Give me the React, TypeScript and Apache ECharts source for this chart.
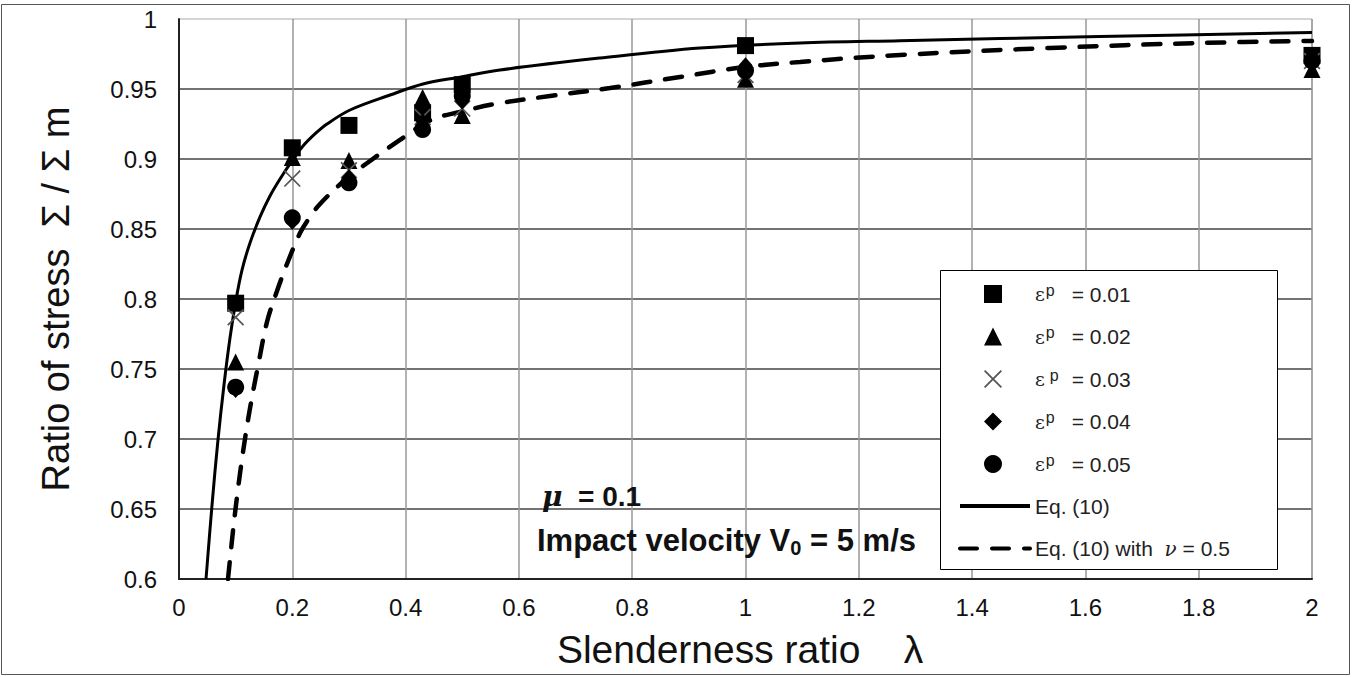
import React, { useEffect, useRef } from "react";
import * as echarts from "echarts";

// ---- data ----
const lambdaValues = [0.1, 0.2, 0.3, 0.43, 0.5, 1, 2];
const eps001 = [0.797, 0.908, 0.924, 0.933, 0.953, 0.981, 0.974];
const eps002 = [0.755, 0.901, 0.899, 0.944, 0.931, 0.957, 0.964];
const eps003 = [0.787, 0.886, 0.892, 0.93, 0.936, 0.96, 0.97];
const eps004 = [0.735, 0.855, 0.887, 0.927, 0.941, 0.967, 0.971];
const eps005 = [0.737, 0.858, 0.883, 0.921, 0.945, 0.963, 0.97];

const eq10Lambda = [0.0477, 0.0583, 0.0688, 0.0794, 0.09, 0.1006, 0.1112, 0.1253, 0.143, 0.1606, 0.1783, 0.1995, 0.2189, 0.24, 0.2613, 0.3019, 0.3725, 0.4307, 0.4978, 0.5666, 0.7432, 0.9197, 1.0962, 1.2727, 1.6258, 2.0];
const eq10Ratio = [0.6, 0.6529, 0.6993, 0.7386, 0.7721, 0.7993, 0.8207, 0.84, 0.8586, 0.8736, 0.8857, 0.8986, 0.9093, 0.9179, 0.925, 0.935, 0.9457, 0.9536, 0.9586, 0.9636, 0.9721, 0.9793, 0.9829, 0.9845, 0.9875, 0.9904];

const eq10NuLambda = [0.0865, 0.0953, 0.1041, 0.113, 0.1218, 0.1306, 0.1395, 0.1553, 0.173, 0.1906, 0.2136, 0.2312, 0.2489, 0.293, 0.3372, 0.3901, 0.4448, 0.496, 0.5578, 0.6549, 0.7608, 0.8844, 0.9991, 1.0962, 1.2727, 1.5375, 1.8023, 2.0];
const eq10NuRatio = [0.6, 0.6343, 0.6643, 0.6907, 0.7136, 0.7336, 0.7521, 0.7836, 0.8057, 0.825, 0.8471, 0.8586, 0.8679, 0.885, 0.8986, 0.9136, 0.9279, 0.9336, 0.9393, 0.945, 0.9507, 0.9586, 0.9657, 0.9693, 0.9743, 0.9793, 0.9829, 0.9843];

const pointNames = ["εp = 0.01", "εp = 0.02", "εp = 0.03", "εp = 0.04", "εp = 0.05"];
const curveNames = ["Eq. (10)", "Eq. (10) with ν = 0.5"];
const legendLabels: Record<string, string> = {
  "εp = 0.01": "{e|ε}{p|p}{t|= 0.01}",
  "εp = 0.02": "{e|ε}{p|p}{t|= 0.02}",
  "εp = 0.03": "{e|ε}{q|p}{t|= 0.03}",
  "εp = 0.04": "{e|ε}{p|p}{t|= 0.04}",
  "εp = 0.05": "{e|ε}{p|p}{t|= 0.05}",
  "Eq. (10)": "{t|Eq. (10)}",
  "Eq. (10) with ν = 0.5": "{t|Eq. (10) with  }{n|ν}{t| = 0.5}",
};

const FONT = "Liberation Sans";
const crossPath =
  "path://M0,0.7L0.7,0L5,4.3L9.3,0L10,0.7L5.7,5L10,9.3L9.3,10L5,5.7L0.7,10L0,9.3L4.3,5Z";

const pairs = (xs: number[], ys: number[]) => xs.map((x, i) => [x, ys[i]]);

const legendText = {
  fontFamily: FONT,
  fontSize: 21,
  color: "#222",
  lineHeight: 24,
  rich: {
    e: { fontFamily: "DejaVu Serif", fontSize: 19, lineHeight: 24, color: "#222", padding: [0, 0, 0, 28] },
    p: { fontFamily: FONT, fontSize: 16, lineHeight: 14, verticalAlign: "top", padding: [0, 17, 0, 1], color: "#222" },
    q: { fontFamily: FONT, fontSize: 16, lineHeight: 14, verticalAlign: "top", padding: [0, 13, 0, 5], color: "#222" },
    t: { fontFamily: FONT, fontSize: 21, lineHeight: 24, color: "#222" },
    n: { fontFamily: "DejaVu Serif", fontSize: 20, fontStyle: "italic", lineHeight: 24, color: "#222" },
  },
};

export default function App() {
  const ref = useRef<HTMLDivElement>(null);
  useEffect(() => {
    if (!ref.current) return;
    const chart = echarts.init(ref.current, undefined, { renderer: "svg" });
    const scatterBase = (name: string, ys: number[], symbol: string, size: any, color: string) => ({
      type: "scatter",
      name,
      data: pairs(lambdaValues, ys),
      symbol,
      symbolSize: size,
      itemStyle: { color, opacity: 1 },
      z: 5,
    });
    chart.setOption({
      animation: false,
      backgroundColor: "#fff",
      grid: {
        left: 179,
        right: 43,
        top: 19,
        bottom: 98,
        show: true,
        borderColor: "#aaa",
        borderWidth: 1,
        backgroundColor: "#fff",
      },
      xAxis: {
        type: "value",
        min: 0,
        max: 2,
        interval: 0.2,
        axisLine: { show: true, onZero: false, lineStyle: { color: "#222", width: 2 } },
        axisTick: { show: false },
        axisLabel: {
          fontSize: 24,
          fontFamily: FONT,
          color: "#111",
          margin: 16,
          formatter: (v: number) => String(parseFloat(v.toFixed(1))),
        },
        splitLine: { show: true, lineStyle: { color: "#999", width: 1.5 } },
        name: "Slenderness ratio    λ ",
        nameLocation: "middle",
        nameGap: 51,
        nameTextStyle: { fontSize: 39, fontFamily: FONT, color: "#111" },
      },
      yAxis: {
        type: "value",
        min: 0.6,
        max: 1,
        interval: 0.05,
        axisLine: { show: true, onZero: false, lineStyle: { color: "#222", width: 2 } },
        axisTick: { show: false },
        axisLabel: {
          fontSize: 24,
          fontFamily: FONT,
          color: "#111",
          margin: 22,
          formatter: (v: number) => String(parseFloat(v.toFixed(2))),
        },
        splitLine: { show: true, showMaxLine: false, lineStyle: { color: "#444", width: 1.5 } },
        name: "Ratio of stress  Σ / Σ m",
        nameLocation: "middle",
        nameGap: 104,
        nameTextStyle: { fontSize: 38, fontFamily: FONT, color: "#111" },
      },
      legend: [
        {
          orient: "vertical",
          left: 984,
          top: 282,
          padding: 0,
          itemWidth: 18,
          itemHeight: 18,
          itemGap: 18.5,
          selectedMode: false,
          data: pointNames,
          formatter: (n: string) => legendLabels[n] || n,
          textStyle: legendText,
          z: 6,
        },
        {
          orient: "vertical",
          left: 958,
          top: 494,
          padding: 0,
          itemWidth: 70,
          itemHeight: 14,
          itemGap: 18.5,
          selectedMode: false,
          data: curveNames.map((n) => ({ name: n, itemStyle: { opacity: 0 }, lineStyle: { width: 4 } })),
          formatter: (n: string) => legendLabels[n] || n,
          textStyle: legendText,
          z: 6,
        },
      ],
      graphic: [
        {
          type: "rect",
          z: 3,
          shape: { x: 940.5, y: 270.5, width: 337, height: 299 },
          style: { fill: "#fff", stroke: "#000", lineWidth: 1 },
        },
        {
          type: "rect",
          z: 1,
          silent: true,
          shape: { x: 1.5, y: 4.5, width: 1348, height: 670 },
          style: { fill: "none", stroke: "#555", lineWidth: 1 },
        },
        {
          type: "text",
          left: 542,
          top: 482,
          z: 7,
          style: {
            text: "{m|μ}{t|  = 0.1}",
            rich: {
              m: { fontFamily: "DejaVu Serif", fontStyle: "italic", fontWeight: "bold", fontSize: 28, lineHeight: 32, fill: "#111" },
              t: { fontFamily: FONT, fontWeight: "bold", fontSize: 28, lineHeight: 32, fill: "#111" },
            },
          },
        },
        {
          type: "text",
          left: 537,
          top: 525,
          z: 7,
          style: {
            text: "{t|Impact velocity V}{s|0}{t| = 5 m/s}",
            rich: {
              t: { fontFamily: FONT, fontWeight: "bold", fontSize: 31, lineHeight: 34, fill: "#111" },
              s: { fontFamily: FONT, fontWeight: "bold", fontSize: 20, lineHeight: 20, verticalAlign: "bottom", fill: "#111" },
            },
          },
        },
      ],
      series: [
        {
          type: "line",
          name: "Eq. (10)",
          data: pairs(eq10Lambda, eq10Ratio),
          symbol: "none",
          smooth: 0.35,
          lineStyle: { color: "#000", width: 3 },
          itemStyle: { color: "#000" },
          z: 3,
        },
        {
          type: "line",
          name: "Eq. (10) with ν = 0.5",
          data: pairs(eq10NuLambda, eq10NuRatio),
          symbol: "none",
          smooth: 0.35,
          lineStyle: { color: "#000", width: 4.5, type: [17, 15], cap: "round" },
          itemStyle: { color: "#000" },
          z: 3,
        },
        scatterBase("εp = 0.01", eps001, "rect", 17, "#000"),
        scatterBase("εp = 0.02", eps002, "triangle", 17, "#000"),
        scatterBase("εp = 0.03", eps003, crossPath, 17, "#555"),
        scatterBase("εp = 0.04", eps004, "diamond", [14, 16], "#000"),
        scatterBase("εp = 0.05", eps005, "circle", 17, "#000"),
      ],
    });
    return () => chart.dispose();
  }, []);
  return (
    <div
      ref={ref}
      style={{ position: "absolute", left: 0, top: 0, width: 1355, height: 677, background: "#fff" }}
    />
  );
}
